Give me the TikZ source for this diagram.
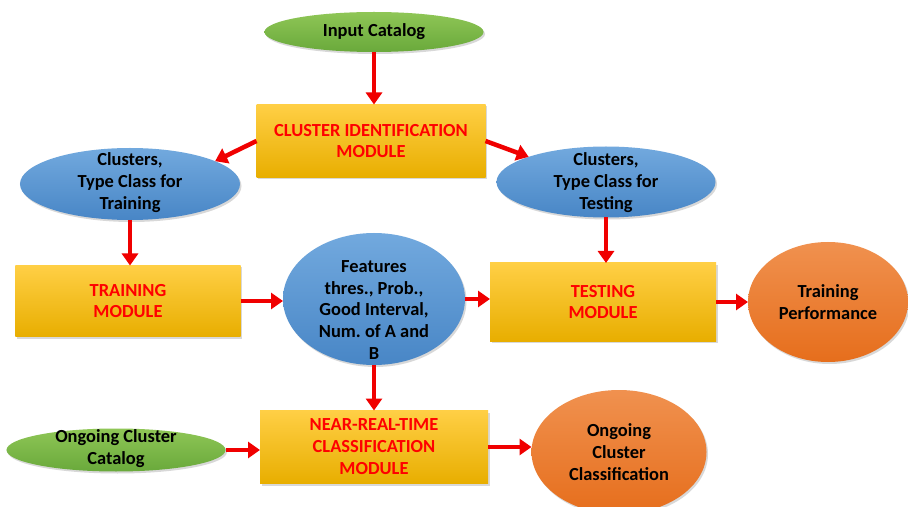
\documentclass[tikz,border=0pt]{standalone}
\usepackage{fontspec}
\setmainfont{Carlito}
\frenchspacing
\usetikzlibrary{shapes.geometric,arrows.meta,shadows,calc}
\definecolor{boxtop}{HTML}{FFCF45}
\definecolor{boxmid}{HTML}{FFC000}
\definecolor{boxbot}{HTML}{E8AE00}
\definecolor{grntop}{HTML}{8FC656}
\definecolor{grnbot}{HTML}{69A93B}
\definecolor{blutop}{HTML}{72A9DE}
\definecolor{blubot}{HTML}{4886C6}
\definecolor{orgtop}{HTML}{F0914F}
\definecolor{orgbot}{HTML}{E66E1C}
\definecolor{arrred}{HTML}{F00000}
\begin{document}
\begin{tikzpicture}[x=1bp,y=-1bp,
  txt/.style={font=\fontsize{18.5}{22}\selectfont\bfseries, align=center, text=black, inner sep=0pt},
  shade/.style={drop shadow={shadow xshift=1.5bp, shadow yshift=-2bp, opacity=0.3}},
  oval/.style={ellipse, inner sep=0pt, outer sep=0pt, draw=none, shade},
  greenoval/.style={oval, top color=grntop, bottom color=grnbot},
  blueoval/.style={oval, top color=blutop, bottom color=blubot},
  orangeoval/.style={oval, top color=orgtop, bottom color=orgbot},
  modbox/.style={rectangle, inner sep=0pt, outer sep=0pt, draw=none, top color=boxtop, middle color=boxmid, bottom color=boxbot, shade, font=\fontsize{18.5}{22}\selectfont\bfseries, align=center, text=red},
  arr/.style={arrred, line width=4.5bp, -{Triangle[length=12bp,width=16bp]}}
]
\useasboundingbox (0,0) rectangle (908,507);
\clip (0,0) rectangle (908,507);
\fill[white] (0,0) rectangle (908,507);

% ovals
\node[greenoval, minimum width=219bp, minimum height=40bp] (in) at (374,32) {};
\node[txt] (inT) at (374,32) {Input Catalog};

\node[blueoval, minimum width=220bp, minimum height=72bp] (ctr) at (130,184) {};
\node[txt] (ctrT) at (130,183) {Clusters,\\Type Class for\\Training};

\node[blueoval, minimum width=219bp, minimum height=71bp] (cte) at (606,182) {};
\node[txt] (cteT) at (606,183) {Clusters,\\Type Class for\\Testing};

\node[blueoval, minimum width=182bp, minimum height=132bp] (fe) at (374,299) {};
\node[txt] (feT) at (374,310) {Features\\thres., Prob.,\\Good Interval,\\Num.\ of A and\\B};

\node[orangeoval, minimum width=160bp, minimum height=120bp] (tp) at (828,302) {};
\node[txt] (tpT) at (828,302) {Training\\Performance};

\node[greenoval, minimum width=219bp, minimum height=43bp] (occ) at (116,450) {};
\node[txt] (occT) at (116,449) {Ongoing Cluster\\Catalog};

\node[orangeoval, minimum width=175bp, minimum height=124bp] (ocl) at (619,452) {};
\node[txt] (oclT) at (619,452) {Ongoing\\Cluster\\Classification};

% module boxes
\node[modbox, minimum width=229bp, minimum height=73bp] (cid) at (371,141) {CLUSTER IDENTIFICATION\\MODULE};
\node[modbox, minimum width=225bp, minimum height=71bp] (tm) at (128,301) {TRAINING\\MODULE};
\node[modbox, minimum width=226bp, minimum height=78bp] (tsm) at (603,302) {TESTING\\MODULE};
\node[modbox, minimum width=228bp, minimum height=73bp] (nrt) at (374,447) {NEAR-REAL-TIME\\CLASSIFICATION\\MODULE};

% arrows
\draw[arr] (in.south) -- (in.south |- cid.north);
\draw[arr] (cid.west) -- (ctr.15);
\draw[arr] (cid.east) -- (cte.162);
\draw[arr] (ctr.south) -- (ctr.south |- tm.north);
\draw[arr] (cte.south) -- (cte.south |- tsm.north);
\draw[arr] (tm.east) -- (tm.east -| fe.west);
\draw[arr] (fe.east) -- (fe.east -| tsm.west);
\draw[arr] (tsm.east) -- (tsm.east -| tp.west);
\draw[arr] (fe.south) -- (fe.south |- nrt.north);
\draw[arr] (occ.east) -- (occ.east -| nrt.west);
\draw[arr] (nrt.east) -- (nrt.east -| ocl.west);
\end{tikzpicture}
\end{document}
